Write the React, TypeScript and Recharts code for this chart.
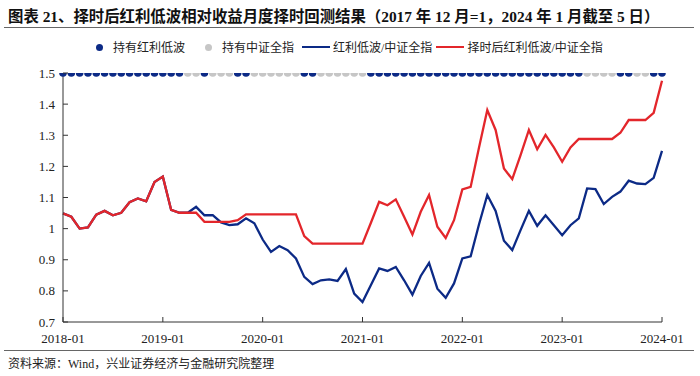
import { ComposedChart, Line, XAxis, YAxis } from "recharts";

// 红利低波/中证全指 (2018-01 .. 2024-01)
const redLowVol = [
  1.049, 1.038, 1.0, 1.004, 1.045, 1.057, 1.043, 1.051, 1.085, 1.097, 1.088, 1.15,
  1.167, 1.06, 1.051, 1.051, 1.07, 1.043, 1.043, 1.02, 1.011, 1.014, 1.033, 1.017,
  0.965, 0.925, 0.944, 0.931, 0.904, 0.845, 0.822, 0.834, 0.837, 0.832, 0.87, 0.791,
  0.764, 0.818, 0.872, 0.864, 0.877, 0.834, 0.788, 0.848, 0.89, 0.807, 0.778, 0.824,
  0.904, 0.911, 1.013, 1.108, 1.057, 0.961, 0.931, 0.995, 1.057, 1.009, 1.043, 1.011,
  0.979, 1.011, 1.033, 1.129, 1.127, 1.079, 1.102, 1.119, 1.154, 1.145, 1.143, 1.163,
  1.25,
];

// 择时后红利低波/中证全指
const timedRedLowVol = [
  1.049, 1.038, 1.0, 1.004, 1.045, 1.057, 1.043, 1.051, 1.085, 1.097, 1.088, 1.15,
  1.167, 1.06, 1.051, 1.051, 1.051, 1.022, 1.022, 1.022, 1.022, 1.027, 1.046, 1.046,
  1.046, 1.046, 1.046, 1.046, 1.046, 0.976, 0.952, 0.952, 0.952, 0.952, 0.952, 0.952,
  0.952, 1.018, 1.086, 1.075, 1.094, 1.038, 0.981, 1.054, 1.108, 1.006, 0.97, 1.027,
  1.126, 1.134, 1.26, 1.381, 1.317, 1.193, 1.159, 1.236, 1.317, 1.255, 1.301, 1.261,
  1.215, 1.261, 1.288, 1.288, 1.288, 1.288, 1.288, 1.308, 1.349, 1.349, 1.349, 1.372,
  1.475,
];

// 1 = 持有红利低波, 0 = 持有中证全指
const holdSignal = [
  1, 1, 1, 1, 1, 1, 1, 1, 1, 1, 1, 1,
  1, 1, 1, 0, 0, 1, 0, 0, 0, 1, 1, 0,
  0, 0, 0, 0, 0, 1, 1, 0, 0, 0, 0, 0,
  0, 1, 1, 1, 1, 1, 1, 1, 1, 1, 1, 1,
  1, 1, 1, 1, 1, 1, 1, 1, 1, 1, 1, 1,
  1, 1, 1, 0, 0, 0, 0, 1, 1, 0, 0, 1,
  1,
];

const yTicks = [0.7, 0.8, 0.9, 1, 1.1, 1.2, 1.3, 1.4, 1.5];
const xTicks = ["2018-01", "2019-01", "2020-01", "2021-01", "2022-01", "2023-01", "2024-01"];
const SIGNAL_LEVEL = 1.5;

const months: string[] = [];
for (let i = 0; i < redLowVol.length; i++) {
  const y = 2018 + Math.floor(i / 12);
  const m = (i % 12) + 1;
  months.push(`${y}-${m < 10 ? "0" + m : m}`);
}

const data = months.map((month, i) => ({
  month,
  blue: redLowVol[i],
  red: timedRedLowVol[i],
  holdDiv: holdSignal[i] === 1 ? SIGNAL_LEVEL : null,
  holdAll: holdSignal[i] === 0 ? SIGNAL_LEVEL : null,
}));

const NAVY = "#0c2a86";
const RED = "#e3262b";
const GREY = "#c6c6c6";
const SERIF = "'Liberation Serif', 'Times New Roman', 'Noto Sans CJK SC', serif";
const CJK = "'Liberation Serif', 'Noto Sans CJK SC', sans-serif";

function YTick(props: any) {
  const { x, y, payload } = props;
  return (
    <g>
      <line x1={x + 8} x2={x + 13} y1={y} y2={y} stroke="#333" strokeWidth={1} />
      <text x={x} y={y} dy="0.35em" textAnchor="end" fontSize={13} fill="#222" fontFamily={SERIF}>
        {payload.value}
      </text>
    </g>
  );
}

function XTick(props: any) {
  const { x, y, payload } = props;
  const axisY = y - 12;
  return (
    <g>
      <line x1={x} x2={x} y1={axisY - 5} y2={axisY} stroke="#333" strokeWidth={1} />
      <text x={x} y={y} dy="0.71em" textAnchor="middle" fontSize={13} fill="#222" fontFamily={SERIF}>
        {payload.value}
      </text>
    </g>
  );
}

function LegendRow() {
  const item = (mark: any, label: string) => (
    <span style={{ display: "inline-flex", alignItems: "center", marginRight: 4 }}>
      {mark}
      <span style={{ marginLeft: 6 }}>{label}</span>
    </span>
  );
  const dot = (c: string) => (
    <span style={{ width: 7, height: 7, borderRadius: "50%", background: c, display: "inline-block", margin: "0 4px" }} />
  );
  const bar = (c: string) => (
    <span style={{ width: 28, height: 2.5, background: c, display: "inline-block" }} />
  );
  return (
    <div
      style={{
        position: "absolute",
        top: 38,
        left: 92,
        fontSize: 12,
        fontFamily: CJK,
        color: "#222",
        whiteSpace: "nowrap",
        display: "flex",
        gap: 12,
      }}
    >
      {item(dot(NAVY), "持有红利低波")}
      {item(dot(GREY), "持有中证全指")}
      <span style={{ display: "inline-flex", alignItems: "center", marginLeft: -8 }}>
        {bar(NAVY)}
        <span style={{ marginLeft: 3 }}>红利低波/中证全指</span>
      </span>
      <span style={{ display: "inline-flex", alignItems: "center", marginLeft: -8 }}>
        {bar(RED)}
        <span style={{ marginLeft: 3 }}>择时后红利低波/中证全指</span>
      </span>
    </div>
  );
}

export default function App() {
  return (
    <div style={{ position: "absolute", left: 0, top: 0, width: 700, height: 376, background: "#fff", overflow: "hidden" }}>
      <div
        style={{
          position: "absolute",
          top: 4,
          left: 8,
          fontSize: 15.4,
          fontWeight: "bold",
          fontFamily: CJK,
          color: "#111",
          whiteSpace: "nowrap",
        }}
      >
        图表 21、择时后红利低波相对收益月度择时回测结果（2017 年 12 月=1，2024 年 1 月截至 5 日）
      </div>
      <div style={{ position: "absolute", top: 27, left: 4, width: 690, height: 1, background: "#666" }} />
      <LegendRow />
      <div style={{ position: "absolute", top: 0, left: 0 }}>
        <ComposedChart width={700} height={350} data={data} margin={{ top: 73, right: 38, bottom: 4, left: 0 }}>
          <XAxis
            dataKey="month"
            scale="point"
            ticks={xTicks}
            interval={0}
            tickSize={0}
            tickMargin={12}
            height={24}
            tick={<XTick />}
            stroke="#333"
            padding={{ left: 0, right: 0 }}
          />
          <YAxis
            domain={[0.7, 1.5]}
            ticks={yTicks}
            width={63}
            tickSize={0}
            tickMargin={8}
            tick={<YTick />}
            stroke="#333"
            allowDataOverflow
          />
          <Line dataKey="holdDiv" stroke="none" dot={{ r: 3.8, fill: NAVY, stroke: "none" }} activeDot={false} isAnimationActive={false} />
          <Line dataKey="holdAll" stroke="none" dot={{ r: 3.8, fill: GREY, stroke: "none" }} activeDot={false} isAnimationActive={false} />
          <Line dataKey="blue" stroke={NAVY} strokeWidth={2.3} dot={false} activeDot={false} isAnimationActive={false} />
          <Line dataKey="red" stroke={RED} strokeWidth={2.3} dot={false} activeDot={false} isAnimationActive={false} />
        </ComposedChart>
      </div>
      <div style={{ position: "absolute", top: 350, left: 4, width: 690, height: 1, background: "#666" }} />
      <div
        style={{
          position: "absolute",
          top: 354,
          left: 8,
          fontSize: 12,
          fontFamily: CJK,
          color: "#222",
          whiteSpace: "nowrap",
        }}
      >
        资料来源：Wind，兴业证券经济与金融研究院整理
      </div>
    </div>
  );
}
